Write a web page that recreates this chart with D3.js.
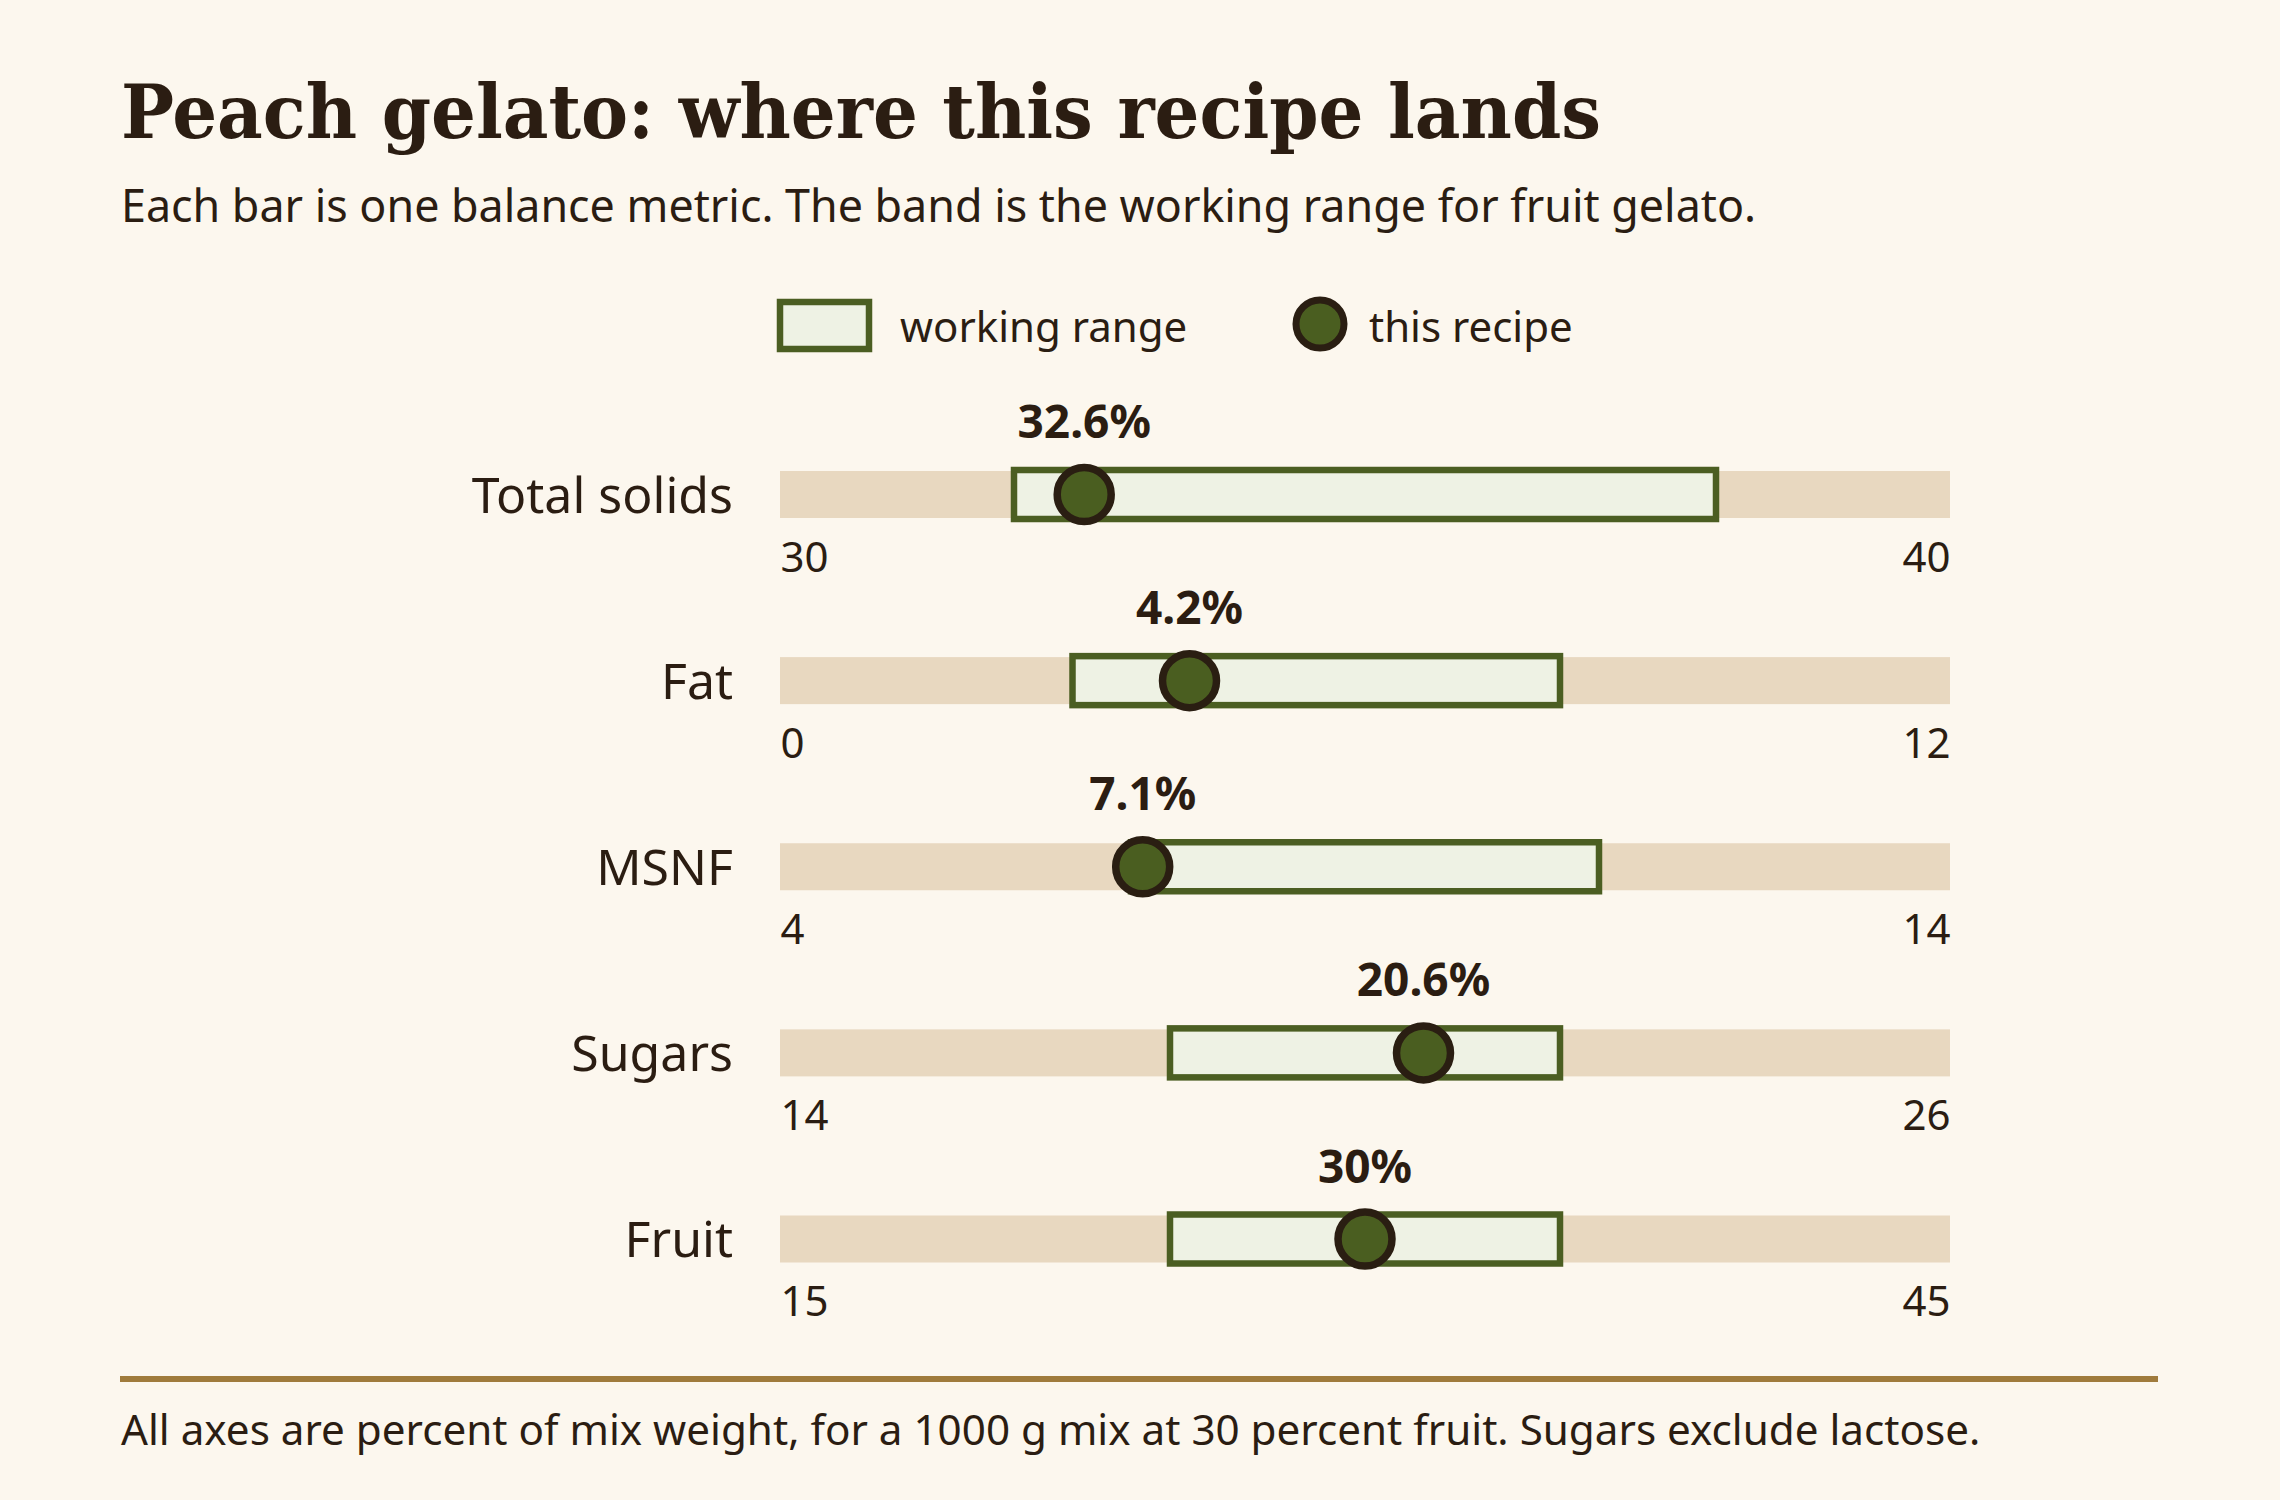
<!DOCTYPE html>
<html>
<head>
<meta charset="utf-8">
<script src="https://cdn.jsdelivr.net/npm/d3@7"></script>
<style>
  body { margin: 0; background: #fcf7ee; }
  svg { display: block; }
  .sans { font-family: "Noto Sans", "Open Sans", sans-serif; fill: #2b1d12; }
</style>
</head>
<body>
<div id="chart"></div>
<script>
// ---- data ----
const metrics      = ["Total solids", "Fat", "MSNF", "Sugars", "Fruit"];
const axisMin      = [30, 0, 4, 14, 15];
const axisMax      = [40, 12, 14, 26, 45];
const rangeLow     = [32, 3, 7, 18, 25];
const rangeHigh    = [38, 8, 11, 22, 35];
const recipeValues = [32.6, 4.2, 7.1, 20.6, 30];

const title    = "Peach gelato: where this recipe lands";
const subtitle = "Each bar is one balance metric. The band is the working range for fruit gelato.";
const footnote = "All axes are percent of mix weight, for a 1000 g mix at 30 percent fruit. Sugars exclude lactose.";

// ---- layout ----
const W = 2280, H = 1500;
const colors = {
    text: "#2b1d12",
    track: "#e8d8c0",
    bandFill: "#eef2e4",
    bandStroke: "#4b5e22",
    dot: "#4a5e20",
    dotStroke: "#2a1e12",
    rule: "#a07b3c"
};
const trackLeft = 780, trackRight = 1950, trackH = 47;

const svg = d3.select("#chart").append("svg")
    .attr("width", W)
    .attr("height", H);

svg.append("rect").attr("width", W).attr("height", H).attr("fill", "#fcf7ee");

// title + subtitle
svg.append("text")
    .attr("x", 121).attr("y", 138)
    .attr("font-family", "'DejaVu Serif', 'Liberation Serif', serif")
    .attr("font-weight", 700)
    .attr("font-size", 75)
    .attr("textLength", 1480)
    .attr("lengthAdjust", "spacingAndGlyphs")
    .attr("fill", colors.text)
    .text(title);

svg.append("text")
    .attr("class", "sans")
    .attr("x", 121).attr("y", 222)
    .attr("font-size", 44.8)
    .text(subtitle);

// legend
const legend = svg.append("g");
legend.append("rect")
    .attr("x", 780).attr("y", 302)
    .attr("width", 89).attr("height", 47)
    .attr("fill", colors.bandFill)
    .attr("stroke", colors.bandStroke)
    .attr("stroke-width", 6.5);
legend.append("text")
    .attr("class", "sans")
    .attr("x", 900).attr("y", 342)
    .attr("font-size", 42)
    .text("working range");
legend.append("circle")
    .attr("cx", 1320).attr("cy", 324)
    .attr("r", 24)
    .attr("fill", colors.dot)
    .attr("stroke", colors.dotStroke)
    .attr("stroke-width", 7);
legend.append("text")
    .attr("class", "sans")
    .attr("x", 1369).attr("y", 342)
    .attr("font-size", 42)
    .text("this recipe");

// rows
const y = d3.scalePoint()
    .domain(metrics)
    .range([494.5, 1239]);

metrics.forEach((m, i) => {
    const cy = y(m);
    const x = d3.scaleLinear()
        .domain([axisMin[i], axisMax[i]])
        .range([trackLeft, trackRight]);

    const row = svg.append("g").attr("class", "row");

    // background track
    row.append("rect")
        .attr("x", x(axisMin[i]))
        .attr("y", cy - trackH / 2)
        .attr("width", x(axisMax[i]) - x(axisMin[i]))
        .attr("height", trackH)
        .attr("fill", colors.track);

    // working range band
    row.append("rect")
        .attr("x", x(rangeLow[i]))
        .attr("y", cy - 24.5)
        .attr("width", x(rangeHigh[i]) - x(rangeLow[i]))
        .attr("height", 49)
        .attr("fill", colors.bandFill)
        .attr("stroke", colors.bandStroke)
        .attr("stroke-width", 6.5);

    // recipe dot
    row.append("circle")
        .attr("cx", x(recipeValues[i]))
        .attr("cy", cy)
        .attr("r", 27)
        .attr("fill", colors.dot)
        .attr("stroke", colors.dotStroke)
        .attr("stroke-width", 7.5);

    // value label
    row.append("text")
        .attr("class", "sans")
        .attr("x", x(recipeValues[i]))
        .attr("y", cy - 56.5)
        .attr("text-anchor", "middle")
        .attr("font-size", 46)
        .attr("font-weight", 700)
        .text(recipeValues[i] + "%");

    // metric label
    row.append("text")
        .attr("class", "sans")
        .attr("x", 733)
        .attr("y", cy + 18)
        .attr("text-anchor", "end")
        .attr("font-size", 50)
        .text(m);

    // endpoint axis
    const axis = row.append("g")
        .attr("transform", `translate(0,${cy + 77})`)
        .call(d3.axisBottom(x)
            .tickValues([axisMin[i], axisMax[i]])
            .tickSize(0)
            .tickPadding(0)
            .tickFormat(d3.format("d")));
    axis.select(".domain").remove();
    axis.selectAll("text")
        .attr("class", "sans")
        .attr("y", 0)
        .attr("dy", 0)
        .attr("font-size", 42)
        .attr("fill", colors.text)
        .attr("text-anchor", (d, j) => j === 0 ? "start" : "end");
});

// footer rule + note
svg.append("line")
    .attr("x1", 120).attr("x2", 2158)
    .attr("y1", 1379).attr("y2", 1379)
    .attr("stroke", colors.rule)
    .attr("stroke-width", 6);

svg.append("text")
    .attr("class", "sans")
    .attr("x", 121).attr("y", 1445)
    .attr("font-size", 42.2)
    .text(footnote);
</script>
</body>
</html>
